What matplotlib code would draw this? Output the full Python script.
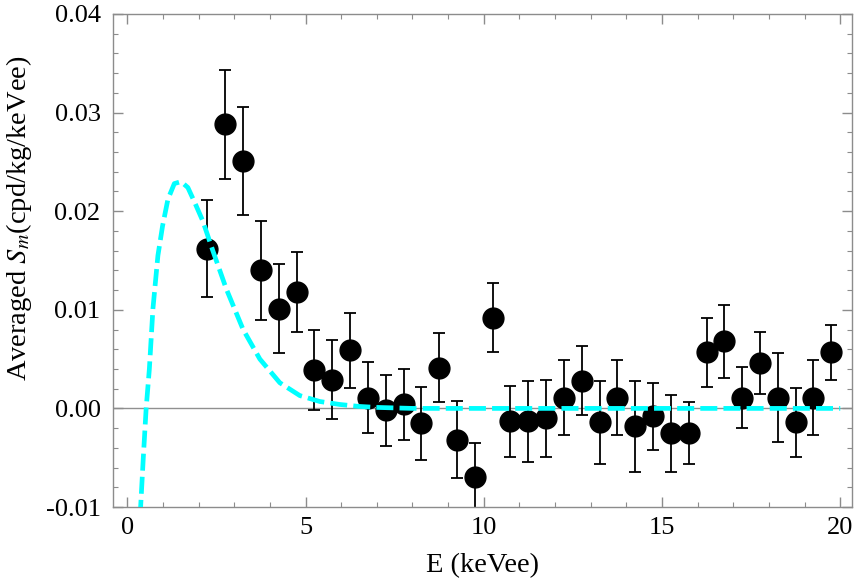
# -*- coding: utf-8 -*-
"""
Averaged modulation amplitude Sm vs energy, with model curve
"""
import numpy as np
import matplotlib
matplotlib.use('Agg')
import matplotlib.pyplot as plt
from matplotlib.ticker import MultipleLocator, FormatStrFormatter

#%% data
energy = [2.25, 2.75, 3.25, 3.75, 4.25, 4.75, 5.25, 5.75, 6.25, 6.75,
          7.25, 7.75, 8.25, 8.75, 9.25, 9.75, 10.25, 10.75, 11.25, 11.75,
          12.25, 12.75, 13.25, 13.75, 14.25, 14.75, 15.25, 15.75, 16.25, 16.75,
          17.25, 17.75, 18.25, 18.75, 19.25, 19.75]
sm = [0.0162, 0.0288, 0.0251, 0.0140, 0.0101, 0.0118, 0.0039, 0.0029, 0.0059, 0.0011,
      -0.0002, 0.0004, -0.0015, 0.0041, -0.0032, -0.0070, 0.0092, -0.0013, -0.0013, -0.0010,
      0.0011, 0.0028, -0.0014, 0.0011, -0.0018, -0.0008, -0.0025, -0.0025, 0.0057, 0.0068,
      0.0011, 0.0046, 0.0011, -0.0014, 0.0011, 0.0057]
sm_err = [0.0049, 0.0055, 0.0055, 0.0050, 0.0045, 0.0041, 0.0041, 0.0040, 0.0038, 0.0036,
          0.0036, 0.0036, 0.0037, 0.0035, 0.0039, 0.0035, 0.0035, 0.0036, 0.0041, 0.0039,
          0.0038, 0.0035, 0.0042, 0.0038, 0.0046, 0.0034, 0.0039, 0.0031, 0.0035, 0.0037,
          0.0031, 0.0031, 0.0045, 0.0035, 0.0038, 0.0028]

# model curve (dashed cyan)
model_e = [0.36, 0.45, 0.53, 0.62, 0.72, 0.86, 0.99, 1.14, 1.32, 1.51,
           1.70, 1.89, 2.12, 2.40, 2.78, 3.25, 3.72, 4.28, 4.84, 5.40,
           5.96, 6.5, 7.0, 8.0, 10.0, 12.0, 14.0, 16.0, 18.0, 20.0]
model_sm = [-0.0110, -0.0050, 0.0000, 0.0040, 0.0101, 0.0155, 0.0185, 0.0212, 0.0228, 0.0230,
            0.0224, 0.0209, 0.0190, 0.0160, 0.0121, 0.0080, 0.0050, 0.0026, 0.0013, 0.0007,
            0.0004, 0.0002, 0.0001, 0.0, 0.0, 0.0, 0.0, 0.0, 0.0, 0.0]

#%% style
plt.rcParams['font.family'] = 'serif'
plt.rcParams['font.serif'] = ['Liberation Serif']
plt.rcParams['mathtext.fontset'] = 'stix'
frameCol = '#8c8c8c'

fig = plt.figure(figsize=(8.55, 5.86), dpi=100)
ax0 = fig.add_axes([113/855., 1-507/586., (852-113)/855., (507-14)/586.])

ax0.axhline(0, color='#909090', lw=1.0, zorder=1)

ax0.errorbar(energy, sm, yerr=sm_err, fmt='o', ms=15, color='black',
             ecolor='black', elinewidth=1.3, capsize=4, capthick=1.3, zorder=2)

ax0.plot(model_e, model_sm, ls=(0, (3.6, 1.3)), lw=3.4, color='#00ffff',
         zorder=3)

ax0.set_xlim(-0.4, 20.33)
ax0.set_ylim(-0.01, 0.04)

ax0.xaxis.set_major_locator(MultipleLocator(5))
ax0.xaxis.set_minor_locator(MultipleLocator(1))
ax0.yaxis.set_major_locator(MultipleLocator(0.01))
ax0.yaxis.set_minor_locator(MultipleLocator(0.002))
ax0.yaxis.set_major_formatter(FormatStrFormatter('%.2f'))

for s in ax0.spines.values():
    s.set_color(frameCol)
    s.set_linewidth(1.0)

ax0.tick_params(which='both', direction='in', top=True, right=True,
                color=frameCol, labelsize=19)
ax0.tick_params(axis='y', pad=9)
ax0.tick_params(axis='x', pad=7)
ax0.tick_params(which='major', length=7, width=1.0)
ax0.tick_params(which='minor', length=3.5, width=0.8)

ax0.set_xlabel('E (keVee)', fontsize=20.5, labelpad=10)
ax0.set_ylabel('Averaged $S_m$(cpd/kg/keVee)', fontsize=20.5)
ax0.yaxis.set_label_coords(-0.107, 0.586)

fig.savefig('out.png', dpi=100)
